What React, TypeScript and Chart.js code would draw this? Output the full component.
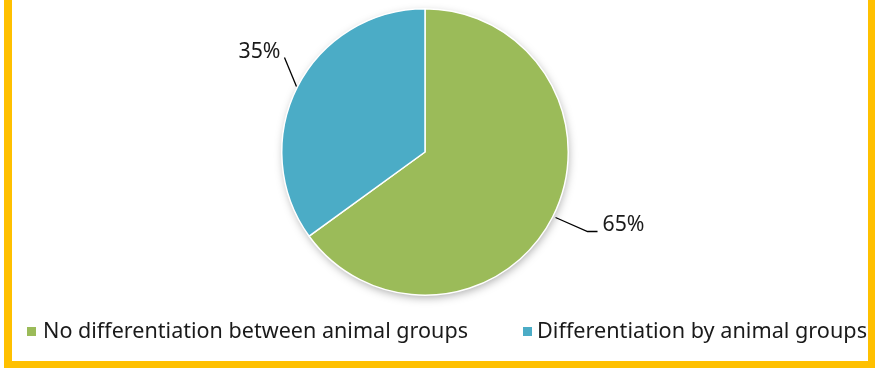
import React, { useEffect, useRef } from "react";
import { Chart, registerables } from "chart.js";

Chart.register(...registerables);

const categories = ["No differentiation between animal groups", "Differentiation by animal groups"];
const values = [65, 35];
const valueLabels = ["65%", "35%"];
const colors = ["#9BBB59", "#4BACC6"];

const FONT = '"Noto Sans", "Liberation Sans", sans-serif';

const framePlugin = {
  id: "frame",
  beforeDraw(chart: any) {
    const ctx = chart.ctx;
    ctx.save();
    ctx.fillStyle = "#FFFFFF";
    ctx.fillRect(0, 0, chart.width, chart.height);
    ctx.fillStyle = "#FFC000";
    ctx.fillRect(4, 0, 8, 368);
    ctx.fillRect(868, 0, 7, 368);
    ctx.fillRect(4, 361, 871, 7);
    ctx.restore();
  },
  beforeDatasetsDraw(chart: any) {
    const ctx = chart.ctx;
    ctx.save();
    ctx.shadowColor = "rgba(0,0,0,0.35)";
    ctx.shadowBlur = 10;
    ctx.shadowOffsetX = 1;
    ctx.shadowOffsetY = 3;
    const arc = chart.getDatasetMeta(0).data[0];
    ctx.beginPath();
    ctx.arc(arc.x, arc.y, arc.outerRadius - 1, 0, Math.PI * 2);
    ctx.fillStyle = "#FFFFFF";
    ctx.fill();
    ctx.restore();
  },
  afterDraw(chart: any) {
    const ctx = chart.ctx;
    const meta = chart.getDatasetMeta(0);
    ctx.save();
    // value labels with leader lines
    meta.data.forEach((arc: any, i: number) => {
      const mid = (arc.startAngle + arc.endAngle) / 2;
      const r = arc.outerRadius;
      const ex = arc.x + Math.cos(mid) * (r + 1);
      const ey = arc.y + Math.sin(mid) * (r + 1);
      ctx.strokeStyle = "#000000";
      ctx.lineWidth = 1.3;
      ctx.fillStyle = "#1a1a1a";
      ctx.font = "22px " + FONT;
      ctx.textBaseline = "alphabetic";
      ctx.beginPath();
      if (Math.cos(mid) >= 0) {
        const bx = ex + 34;
        const by = ey + 14;
        ctx.moveTo(ex + 2, ey);
        ctx.lineTo(bx, by);
        ctx.lineTo(bx + 10, by);
        ctx.stroke();
        ctx.textAlign = "left";
        ctx.fillText(valueLabels[i], bx + 15, by, 42);
      } else {
        const bx = ex - 12;
        const by = ey - 29;
        ctx.moveTo(ex, ey);
        ctx.lineTo(bx, by);
        ctx.stroke();
        ctx.textAlign = "right";
        ctx.fillText(valueLabels[i], bx - 4, by, 42);
      }
    });
    // legend
    const items = [
      { sq: 27, tx: 43, w: 425 },
      { sq: 523, tx: 537, w: 330 },
    ];
    ctx.font = "22px " + FONT;
    ctx.textAlign = "left";
    ctx.textBaseline = "alphabetic";
    categories.forEach((c, i) => {
      ctx.fillStyle = colors[i];
      ctx.fillRect(items[i].sq, 327, 9, 9);
      ctx.fillStyle = "#1a1a1a";
      ctx.fillText(c, items[i].tx, 338, items[i].w);
    });
    ctx.restore();
  },
};

export default function App() {
  const ref = useRef<HTMLCanvasElement>(null);
  useEffect(() => {
    document.body.style.margin = "0";
    const chart = new Chart(ref.current!, {
      type: "pie",
      data: {
        labels: categories,
        datasets: [
          {
            data: values,
            backgroundColor: colors,
            borderColor: "#FFFFFF",
            borderWidth: 1.5,
          },
        ],
      },
      options: {
        animation: false,
        responsive: false,
        maintainAspectRatio: false,
        layout: { padding: { left: 0, right: 32, top: 8, bottom: 72 } },
        plugins: {
          legend: { display: false },
          tooltip: { enabled: false },
        },
      },
      plugins: [framePlugin],
    });
    return () => chart.destroy();
  }, []);
  return (
    <div style={{ position: "fixed", left: 0, top: 0, width: 882, height: 368, background: "#fff" }}>
      <canvas ref={ref} width={882} height={368} style={{ width: 882, height: 368, display: "block" }} />
    </div>
  );
}
